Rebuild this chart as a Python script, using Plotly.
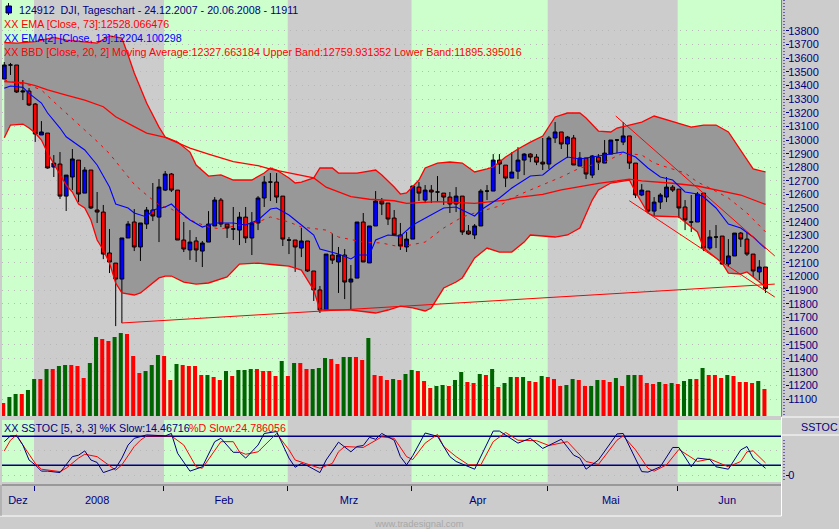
import plotly.graph_objects as go

W = 839
H = 529
NAVY = '#000080'
GREEN_BAND = '#ccffcc'
CHROME = '#cccccc'

# bars 0..123, DJI daily
opens = [13447, 13550, 13550, 13352, 13359, 13264, 13037, 13051, 12802, 12824, 12589, 12729, 12853, 12611, 12780, 12487, 12472, 12172, 12098, 11981, 12282, 12399, 12216, 12384, 12487,
         12435, 12633, 12751, 12633, 12267, 12194, 12260, 12186, 12252, 12370, 12560, 12384, 12348, 12340, 12435, 12282, 12392, 12575, 12692, 12692, 12589, 12267, 12267, 12208, 12260,
         12040, 11901, 11754, 12157, 12106, 12157, 11959, 11988, 12399, 12099, 12370, 12553, 12538, 12428, 12304, 12216, 12274, 12655, 12560, 12633, 12619, 12611, 12582, 12531, 12589,
         12333, 12304, 12370, 12626, 12626, 12853, 12816, 12721, 12772, 12853, 12897, 12875, 12838, 12824, 13015, 13059, 12971, 13015, 12809, 12868, 12743, 12875, 12831, 12897, 13000,
         12985, 13030, 12831, 12597, 12626, 12479, 12545, 12582, 12655, 12640, 12509, 12399, 12399, 12611, 12208, 12289, 12296, 12091, 12150, 12318, 12274, 12164, 12033, 12069]
highs = [13572, 13565, 13550, 13440, 13381, 13271, 13139, 13051, 12890, 12912, 12743, 12934, 12853, 12802, 12780, 12619, 12524, 12348, 12098, 12282, 12406, 12494, 12392, 12509, 12685,
         12714, 12773, 12758, 12633, 12399, 12340, 12289, 12260, 12479, 12582, 12575, 12384, 12509, 12472, 12509, 12472, 12589, 12736, 12758, 12758, 12589, 12289, 12267, 12355, 12260,
         12040, 11930, 12164, 12311, 12216, 12201, 12084, 12399, 12465, 12370, 12626, 12575, 12538, 12487, 12392, 12326, 12663, 12692, 12670, 12670, 12736, 12611, 12619, 12655, 12589,
         12377, 12384, 12640, 12670, 12897, 12897, 12816, 12911, 12948, 12904, 12904, 12897, 13015, 13030, 13132, 13059, 13030, 13037, 12912, 12868, 12890, 12897, 13000, 13000, 13007,
         13132, 13030, 12831, 12677, 12626, 12582, 12611, 12729, 12670, 12640, 12560, 12597, 12619, 12611, 12340, 12377, 12296, 12274, 12318, 12326, 12326, 12164, 12120, 12069]
lows = [13447, 13477, 13345, 13293, 13249, 12986, 13037, 12790, 12729, 12568, 12480, 12634, 12546, 12611, 12494, 12392, 12127, 12025, 11636, 11658, 12282, 12186, 12113, 12348, 12406,
        12252, 12626, 12619, 12267, 12179, 12121, 12106, 12069, 12252, 12370, 12362, 12282, 12267, 12230, 12245, 12157, 12340, 12509, 12553, 12538, 12223, 12164, 12033, 12142, 12033,
        11820, 11732, 11754, 12091, 11879, 11834, 11761, 11988, 12106, 12099, 12370, 12450, 12377, 12304, 12194, 12179, 12274, 12553, 12538, 12538, 12553, 12524, 12465, 12472, 12304,
        12304, 12274, 12370, 12560, 12626, 12751, 12655, 12721, 12714, 12743, 12838, 12816, 12780, 12788, 12978, 12934, 12868, 12817, 12809, 12714, 12721, 12780, 12831, 12897, 12904,
        12963, 12788, 12575, 12589, 12465, 12443, 12494, 12545, 12619, 12428, 12340, 12326, 12399, 12186, 12194, 12208, 12084, 12069, 12150, 12216, 12150, 11996, 11974, 11879]
closes = [13550, 13550, 13352, 13359, 13257, 13044, 13059, 12795, 12831, 12589, 12743, 12861, 12604, 12780, 12502, 12472, 12164, 12106, 11981, 12282, 12384, 12216, 12392, 12487, 12443,
          12655, 12751, 12633, 12267, 12201, 12252, 12194, 12245, 12384, 12560, 12384, 12355, 12348, 12435, 12282, 12392, 12575, 12692, 12692, 12582, 12274, 12267, 12216, 12260, 12040,
          11901, 11754, 12164, 12120, 12157, 11959, 11981, 12399, 12106, 12370, 12553, 12531, 12421, 12304, 12223, 12274, 12663, 12611, 12633, 12619, 12619, 12582, 12531, 12589, 12326,
          12311, 12370, 12626, 12626, 12853, 12824, 12721, 12765, 12853, 12897, 12875, 12838, 12824, 13015, 13059, 12971, 13022, 12817, 12868, 12751, 12883, 12838, 12904, 13000, 13000,
          13030, 12831, 12597, 12633, 12479, 12545, 12597, 12655, 12633, 12502, 12414, 12399, 12604, 12208, 12289, 12289, 12091, 12150, 12318, 12274, 12164, 12040, 12069, 11911]

volumes = [39, 57, 66, 66, 78, 111, 111, 141, 141, 150, 153, 153, 150, 114, 159, 237, 231, 225, 237, 249, 246, 180, 129, 135, 153,
           183, 180, 108, 156, 153, 150, 150, 123, 123, 117, 108, 135, 120, 138, 138, 141, 141, 135, 135, 120, 165, 120, 159, 159, 141,
           141, 144, 174, 171, 156, 177, 177, 177, 168, 234, 123, 120, 108, 111, 108, 126, 138, 135, 105, 84, 90, 93, 90, 108, 132,
           102, 99, 126, 123, 141, 87, 99, 117, 117, 117, 105, 102, 120, 117, 111, 90, 93, 111, 108, 90, 90, 108, 108, 102, 114,
           90, 123, 123, 123, 99, 96, 102, 96, 99, 96, 105, 111, 111, 144, 123, 123, 114, 123, 120, 102, 102, 99, 105, 81]
volume_colors = ('RGGRGGRGRG' 'GRRRGGRRGG' 'RRRGGGRRGR' 'RRRGRRGRGG' 'GRRRRGRGRR' 'GGGRRGGRRG' 'RRRGRGGRRR'
                 'GGRGGRRGRG' 'RGGRGRRGRR' 'RGGRRGGRRG' 'RGGRRRGRGR' 'GGRGRRRGRR' 'RRGR')

upper_x = [0, 2, 5, 8, 10, 13, 15, 17, 19, 20, 21, 23, 25, 26, 28, 30, 31, 33, 35, 37, 40, 42, 43, 44, 46, 47, 48, 50, 51, 53, 54, 57, 60, 61, 63, 64, 65, 67, 68, 70, 72, 74, 76, 78, 79, 81, 83, 85, 87, 89, 91, 93, 94, 96, 98, 99, 101, 103, 105, 109, 111, 113, 115, 117, 119, 121, 123]
upper_y = [13715, 13711, 13722, 13752, 13733, 13722, 13711, 13763, 13748, 13623, 13491, 13271, 13095, 13022, 12985, 12912, 12817, 12736, 12744, 12707, 12707, 12758, 12795, 12780, 12722, 12685, 12692, 12722, 12795, 12795, 12758, 12758, 12780, 12744, 12656, 12604, 12612, 12707, 12795, 12831, 12839, 12831, 12766, 12788, 12802, 12875, 12934, 12985, 13029, 13169, 13198, 13198, 13161, 13066, 13059, 13088, 13110, 13132, 13176, 13125, 13095, 13110, 13110, 13059, 12927, 12788, 12766]
lower_x = [0, 1, 3, 4, 5, 6, 7, 8, 9, 10, 11, 12, 13, 14, 15, 16, 17, 18, 19, 21, 22, 24, 25, 26, 27, 29, 31, 33, 36, 38, 41, 44, 46, 48, 50, 51, 53, 56, 60, 62, 64, 66, 68, 69, 71, 73, 74, 76, 78, 80, 82, 84, 85, 88, 89, 91, 93, 95, 96, 98, 101, 102, 104, 105, 109, 112, 113, 115, 116, 117, 119, 120, 122, 123]
lower_y = [13017, 13110, 13117, 13088, 13051, 13000, 12905, 12824, 12744, 12670, 12619, 12531, 12502, 12414, 12267, 12194, 12098, 11952, 11879, 11864, 11879, 11952, 11989, 12003, 12003, 11959, 11944, 11952, 11996, 12091, 12098, 12084, 12076, 12047, 11900, 11754, 11754, 11754, 11732, 11754, 11783, 11769, 11747, 11769, 11915, 11959, 11989, 12135, 12208, 12179, 12179, 12252, 12304, 12289, 12289, 12304, 12355, 12560, 12634, 12685, 12707, 12619, 12465, 12443, 12436, 12326, 12208, 12135, 12098, 12025, 12018, 12033, 11959, 11923]

ema73_x = [0, 3, 5, 7, 10, 13, 16, 18, 21, 23, 26, 28, 30, 33, 37, 41, 43, 50, 52, 56, 59, 63, 65, 70, 76, 81, 83, 87, 90, 93, 96, 99, 101, 103, 108, 112, 116, 119, 123]
ema73_y = [13428, 13420, 13398, 13367, 13330, 13293, 13244, 13171, 13098, 13051, 13020, 12978, 12941, 12897, 12841, 12812, 12787, 12722, 12654, 12585, 12566, 12555, 12536, 12548, 12536, 12560, 12580, 12602, 12634, 12658, 12683, 12700, 12714, 12700, 12683, 12663, 12628, 12597, 12528]
ema13_x = [0, 1, 3, 4, 6, 7, 9, 10, 13, 15, 17, 18, 20, 21, 23, 24, 26, 27, 28, 30, 32, 34, 37, 39, 41, 43, 44, 46, 48, 50, 51, 53, 54, 56, 57, 59, 60, 62, 64, 66, 69, 71, 73, 75, 76, 77, 80, 82, 85, 87, 89, 91, 93, 95, 98, 100, 102, 104, 106, 108, 110, 112, 113, 115, 117, 119, 121, 123]
ema13_y = [13379, 13396, 13386, 13342, 13271, 13198, 13088, 13024, 12927, 12817, 12656, 12531, 12502, 12465, 12436, 12487, 12509, 12531, 12487, 12414, 12362, 12392, 12392, 12377, 12414, 12494, 12502, 12450, 12377, 12304, 12201, 12179, 12164, 12128, 12157, 12157, 12267, 12304, 12296, 12377, 12450, 12502, 12509, 12465, 12443, 12487, 12575, 12648, 12736, 12744, 12817, 12875, 12861, 12875, 12897, 12912, 12875, 12795, 12729, 12707, 12619, 12604, 12582, 12502, 12384, 12355, 12289, 12204]
ma20_x = [0, 2, 4, 6, 8, 10, 13, 15, 17, 19, 21, 23, 25, 27, 30, 33, 35, 38, 41, 43, 46, 48, 52, 54, 58, 61, 64, 68, 71, 74, 76, 80, 82, 85, 88, 90, 93, 97, 100, 103, 105, 110, 112, 114, 117, 120, 123]
ma20_y = [13440, 13418, 13403, 13367, 13281, 13198, 13070, 12990, 12900, 12790, 12675, 12597, 12524, 12494, 12414, 12362, 12348, 12377, 12399, 12436, 12399, 12362, 12340, 12289, 12252, 12245, 12216, 12252, 12355, 12436, 12465, 12516, 12575, 12634, 12692, 12729, 12795, 12839, 12905, 12890, 12831, 12758, 12692, 12648, 12575, 12465, 12327]

# support line and the two falling channel lines
support_x = [19, 124.5]
support_y = [11659, 11944]
channel_top_x = [98.8, 124.5]
channel_top_y = [13176, 12150]
channel_low_x = [101, 124.5]
channel_low_y = [12555, 11849]

stoch_k_x = [0, 1, 2, 3, 4, 5, 6, 7, 9, 10, 11, 12, 13, 14, 15, 16, 18, 19, 20, 21, 23, 26, 27, 28, 30, 32, 34, 35, 37, 38, 39, 41, 42, 44, 46, 47, 48, 49, 51, 52, 54, 56, 57, 58, 59, 60, 61, 63, 64, 65, 66, 68, 69, 70, 72, 73, 76, 79, 80, 83, 85, 87, 90, 92, 93, 94, 96, 99, 100, 103, 104, 106, 108, 109, 111, 112, 114, 115, 117, 119, 120, 121, 123]
stoch_k_y = [69, 81, 81, 62, 31, 21, 8, 8, 5, 21, 38, 41, 50, 31, 26, 5, 14, 35, 62, 76, 83, 81, 86, 45, 8, 17, 69, 76, 47, 47, 35, 62, 86, 90, 35, 16, 24, 19, 5, 31, 68, 48, 59, 61, 78, 74, 86, 72, 38, 21, 40, 87, 83, 80, 38, 28, 12, 91, 91, 66, 76, 55, 74, 41, 35, 12, 31, 85, 86, 7, 6, 17, 57, 57, 17, 35, 32, 17, 12, 52, 59, 35, 14]
stoch_d_x = [0, 1, 2, 3, 5, 6, 9, 10, 12, 13, 15, 17, 18, 19, 21, 22, 23, 27, 29, 31, 32, 35, 37, 38, 39, 41, 44, 46, 47, 51, 53, 54, 55, 58, 61, 63, 65, 66, 68, 70, 71, 73, 75, 77, 79, 81, 83, 86, 88, 91, 94, 96, 99, 100, 102, 104, 105, 107, 109, 112, 114, 117, 119, 120, 121, 123]
stoch_d_y = [50, 72, 83, 62, 24, 12, 7, 14, 35, 43, 38, 19, 10, 21, 59, 72, 81, 81, 62, 17, 14, 69, 69, 48, 43, 48, 86, 52, 31, 14, 24, 48, 59, 57, 79, 76, 38, 32, 66, 84, 59, 38, 21, 21, 69, 88, 72, 71, 61, 69, 28, 22, 72, 81, 52, 14, 8, 21, 53, 28, 33, 17, 28, 48, 50, 25]

price_ticks = [13800, 13700, 13600, 13500, 13400, 13300, 13200, 13100, 13000, 12900, 12800, 12700, 12600, 12500, 12400, 12300, 12200, 12100, 12000, 11900,
               11800, 11700, 11600, 11500, 11400, 11300, 11200, 11100]
stoch_lines = [80, 20]
month_first_bar = [5, 26, 46, 66, 88, 109]
month_labels = ['Dez', '2008', 'Feb', 'Mrz', 'Apr', 'Mai', 'Jun']
month_label_x = [2.2, 15, 35.5, 55.7, 76.5, 98, 116.8]

x_range = [-0.37, 125.5]
price_range = [10977, 14026.5]
stoch_range = [-14.5, 113.9]
volume_range = [0, 1248]


def py(pixel):
    return 1 - pixel / H


def px(pixel):
    return pixel / W


def chrome_line(x0, y0, x1, y1, color, width=1, dash='solid'):
    return dict(type='line', xref='paper', yref='paper', x0=px(x0), y0=py(y0), x1=px(x1), y1=py(y1),
                line=dict(color=color, width=width, dash=dash), layer='above')


def label(x, y, text, color, size=10.7, anchor='left'):
    return dict(xref='paper', yref='paper', x=px(x), y=py(y), text=text, showarrow=False, xanchor=anchor, yanchor='middle',
                font=dict(family='Liberation Sans', size=size, color=color), borderpad=0, borderwidth=0)


fig = go.Figure()

# grey band goes on the base axis so the candles overlay it
fig.add_trace(go.Scatter(x=upper_x, y=upper_y, mode='lines', line=dict(width=0), yaxis='y', hoverinfo='skip'))
fig.add_trace(go.Scatter(x=lower_x, y=lower_y, mode='lines', line=dict(width=0), fill='tonexty', fillcolor='#989898', yaxis='y', hoverinfo='skip'))

fig.add_trace(go.Candlestick(x=list(range(len(opens))), open=opens, high=highs, low=lows, close=closes, yaxis='y2', whiskerwidth=0,
                             increasing=dict(line=dict(color='black', width=1), fillcolor='#0000ff'),
                             decreasing=dict(line=dict(color='black', width=1), fillcolor='#ff0000')))

fig.add_trace(go.Scatter(x=upper_x, y=upper_y, mode='lines', line=dict(color='#ff0000', width=1.3), yaxis='y2'))
fig.add_trace(go.Scatter(x=lower_x, y=lower_y, mode='lines', line=dict(color='#ff0000', width=1.3), yaxis='y2'))
fig.add_trace(go.Scatter(x=ma20_x, y=ma20_y, mode='lines', line=dict(color='#ff0000', width=1, dash='3px,5px'), yaxis='y2'))
fig.add_trace(go.Scatter(x=ema73_x, y=ema73_y, mode='lines', line=dict(color='#ff0000', width=1.3), yaxis='y2'))
fig.add_trace(go.Scatter(x=ema13_x, y=ema13_y, mode='lines', line=dict(color='#0000ff', width=1.1), yaxis='y2'))
for line_x, line_y in [(support_x, support_y), (channel_top_x, channel_top_y), (channel_low_x, channel_low_y)]:
    fig.add_trace(go.Scatter(x=line_x, y=line_y, mode='lines', line=dict(color='#ff0000', width=1), yaxis='y2'))

colors = ['#ff0000' if c == 'R' else '#006400' for c in volume_colors]
fig.add_trace(go.Bar(x=list(range(len(volumes))), y=volumes, marker=dict(color=colors, line=dict(width=0)), width=0.65, offset=-0.5, yaxis='y4'))

for line_value in stoch_lines:
    fig.add_trace(go.Scatter(x=x_range, y=[line_value, line_value], mode='lines', line=dict(color=NAVY, width=1.5), yaxis='y3'))
fig.add_trace(go.Scatter(x=stoch_d_x, y=stoch_d_y, mode='lines', line=dict(color='#ff0000', width=1), yaxis='y3'))
fig.add_trace(go.Scatter(x=stoch_k_x, y=stoch_k_y, mode='lines', line=dict(color=NAVY, width=1), yaxis='y3'))

# month bands, green on every other month
edges = [x_range[0]] + [m - 0.2 for m in month_first_bar] + [x_range[1]]
shapes = []
for n in range(0, len(edges) - 1, 2):
    for ref in ['y domain', 'y3 domain']:
        shapes.append(dict(type='rect', xref='x', yref=ref, x0=edges[n], x1=edges[n + 1], y0=0, y1=1,
                           fillcolor=GREEN_BAND, line=dict(width=0), layer='below'))

shapes += [
    chrome_line(781.5, 0, 781.5, 417, '#808080'),
    chrome_line(781.5, 417, 781.5, 516, 'white'),
    chrome_line(0, 516, 781.5, 516, 'white'),
    chrome_line(781.5, 417, W, 417, 'white'),
    chrome_line(781.5, 435, W, 435, 'white'),
    chrome_line(1, 485, 1, 516, '#999999'),
    chrome_line(784, 0, 784, 415, NAVY, dash='1px,2px'),
    chrome_line(784, 440, 784, 482, NAVY, dash='1px,2px'),
    chrome_line(8.5, 3, 8.5, 15, 'black'),
    dict(type='rect', xref='paper', yref='paper', x0=px(6), x1=px(11.5), y0=py(13), y1=py(6), fillcolor='#0000ff', line=dict(color='black', width=1), layer='above'),
]

annotations = [
    label(19, 10, '124912  DJI, Tageschart - 24.12.2007 - 20.06.2008 - 11911', NAVY),
    label(4, 24, 'XX EMA [Close, 73]:12528.066476', '#ff0000'),
    label(4, 38, 'XX EMA[2] [Close, 13]:12204.100298', '#0000ff'),
    label(4, 52, 'XX BBD [Close, 20, 2] Moving Average:12327.663184 Upper Band:12759.931352 Lower Band:11895.395016', '#ff0000'),
    label(4, 428, 'XX SSTOC [5, 3, 3] %K Slow:14.46716', NAVY),
    label(189, 428, '%D Slow:24.786056', '#ff0000'),
    label(801, 427, 'SSTOC', NAVY),
    label(419, 523, 'www.tradesignal.com', '#a8a8a8', size=9.4, anchor='center'),
]

fig.update_layout(
    width=W,
    height=H,
    margin=dict(l=0, r=0, t=0, b=0),
    paper_bgcolor=CHROME,
    plot_bgcolor=CHROME,
    showlegend=False,
    boxgap=0.12,
    shapes=shapes,
    annotations=annotations,
    font=dict(family='Liberation Sans', size=11, color=NAVY),
    xaxis=dict(domain=[px(2), px(781)], range=x_range, anchor='free', position=py(485), rangeslider=dict(visible=False),
               showgrid=False, zeroline=False, showline=True, linecolor='#999999', linewidth=2,
               tickmode='array', tickvals=month_label_x, ticktext=month_labels, ticks='outside', ticklen=5, tickcolor='rgba(0,0,0,0)',
               minor=dict(tickmode='array', tickvals=edges[1:-1], ticks='outside', ticklen=5, tickcolor=NAVY, showgrid=False)),
    yaxis=dict(domain=[py(416), 1], range=price_range, anchor='free', position=px(785), side='right',
               tickmode='array', tickvals=price_ticks, ticks='outside', ticklen=3, tickcolor=NAVY, tickformat='d', ticklabelstandoff=-3,
               showgrid=True, gridcolor='#b8b8b8', griddash='1px,5px', gridwidth=1, zeroline=False, showline=False),
    yaxis2=dict(range=price_range, overlaying='y', visible=False),
    yaxis3=dict(domain=[py(482), py(420)], range=stoch_range, anchor='free', position=px(785), side='right',
                tickmode='array', tickvals=[0], ticktext=['0'], ticks='outside', ticklen=3, tickcolor=NAVY, ticklabelstandoff=-3,
                showgrid=True, gridcolor='#b8b8b8', griddash='1px,5px', zeroline=False, showline=False,
                minor=dict(tickmode='array', tickvals=[50], showgrid=True, gridcolor='#b8b8b8', griddash='1px,5px', ticks='')),
    yaxis4=dict(range=volume_range, overlaying='y', visible=False),
)

fig.write_html("out.html", config=dict(displayModeBar=False), post_script="document.body.style.margin='0';document.body.style.overflow='hidden';")
